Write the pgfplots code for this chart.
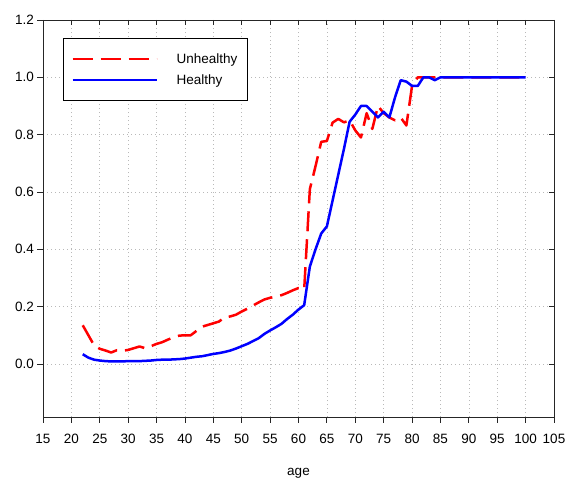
\documentclass[border=0pt]{standalone}
\usepackage{fontspec}
\setmainfont{Liberation Sans}
\usepackage{pgfplots}
\pgfplotsset{compat=1.18}
\usetikzlibrary{calc}
\pgfplotstableread{
age val
22 0.135
23 0.100
24 0.065
25 0.053
26 0.047
27 0.040
28 0.048
29 0.046
30 0.049
31 0.055
32 0.061
33 0.055
34 0.062
35 0.070
36 0.076
37 0.085
38 0.093
39 0.099
40 0.100
41 0.100
42 0.115
43 0.130
44 0.136
45 0.142
46 0.148
47 0.163
48 0.166
49 0.172
50 0.183
51 0.193
52 0.204
53 0.215
54 0.225
55 0.231
56 0.235
57 0.240
58 0.248
59 0.257
60 0.265
61 0.260
62 0.610
63 0.690
64 0.775
65 0.778
66 0.842
67 0.855
68 0.843
69 0.850
70 0.815
71 0.790
72 0.875
73 0.820
74 0.900
75 0.875
76 0.860
77 0.850
78 0.860
79 0.832
80 0.970
81 1.000
82 1.000
83 1.000
84 1.000
85 1.000
86 1.000
88 1.000
90 1.000
92 1.000
94 1.000
96 1.000
98 1.000
100 1.000
}\unhealthy
\pgfplotstableread{
age val
22 0.034
23 0.022
24 0.015
25 0.012
26 0.010
27 0.009
28 0.009
29 0.009
30 0.010
31 0.010
32 0.010
33 0.011
34 0.012
35 0.014
36 0.015
37 0.015
38 0.016
39 0.017
40 0.019
41 0.022
42 0.025
43 0.027
44 0.031
45 0.035
46 0.038
47 0.042
48 0.047
49 0.054
50 0.062
51 0.070
52 0.080
53 0.090
54 0.105
55 0.117
56 0.128
57 0.140
58 0.157
59 0.172
60 0.190
61 0.205
62 0.340
63 0.400
64 0.455
65 0.480
66 0.570
67 0.660
68 0.750
69 0.845
70 0.870
71 0.900
72 0.900
73 0.880
74 0.860
75 0.880
76 0.860
77 0.930
78 0.990
79 0.985
80 0.970
81 0.970
82 1.000
83 1.000
84 0.990
85 1.000
86 1.000
88 1.000
90 1.000
92 1.000
94 1.000
96 1.000
98 1.000
100 1.000
}\healthy
\newcommand\lblfont{\fontsize{13.5}{16}\selectfont}
\begin{document}
\begin{tikzpicture}
\pgfplotsset{
  base/.style={
    scale only axis, width=511pt, height=397pt,
    xmin=15, xmax=105, ymin=-0.185, ymax=1.2,
    xtick={15,20,25,30,35,40,45,50,55,60,65,70,75,80,85,90,95,100,105},
    ytick={0,0.2,0.4,0.6,0.8,1.0,1.2},
    major tick length=5.5pt,
    tick style={black!85, line width=0.8pt},
    axis line style={black!85, line width=0.8pt},
  }
}
\begin{axis}[base, name=ax,
  tick align=outside, xtick pos=left, ytick pos=left,
  grid=major,
  grid style={gray!55, line width=0.6pt, dash pattern=on 0.8pt off 3.2pt},
  /pgf/number format/assume math mode=true,
  yticklabel style={/pgf/number format/fixed, /pgf/number format/fixed zerofill, /pgf/number format/precision=1},
  xticklabel style={yshift=-8pt},
  tick label style={font=\lblfont},
  xlabel={age},
  xlabel style={at={(axis description cs:0.5,0)}, anchor=center, yshift=-56pt, font=\lblfont},
  legend style={at={(rel axis cs:0.039,0.955)}, anchor=north west, draw=black, line width=0.8pt,
    inner xsep=8pt, inner ysep=13pt, row sep=6pt, font=\lblfont, cells={anchor=west}},
  legend image code/.code={\draw[#1] (0pt,0pt) -- (84pt,0pt); \path[draw=none] (0pt,0pt) -- (102pt,0pt);},
]
\addplot[red, line width=2.5pt, line join=round, dash pattern=on 20pt off 8pt] table[x=age,y=val] {\unhealthy};
\addlegendentry{Unhealthy}
\addplot[blue, line width=2.5pt, line join=round] table[x=age,y=val] {\healthy};
\addlegendentry{Healthy}
\end{axis}
\begin{axis}[base, tick align=inside, xtick pos=right, ytick pos=right, xticklabels={}, yticklabels={}]
\end{axis}
\path ($(ax.south west)+(-43pt,-64pt)$) rectangle ($(ax.north east)+(16pt,20pt)$);
\end{tikzpicture}
\end{document}
